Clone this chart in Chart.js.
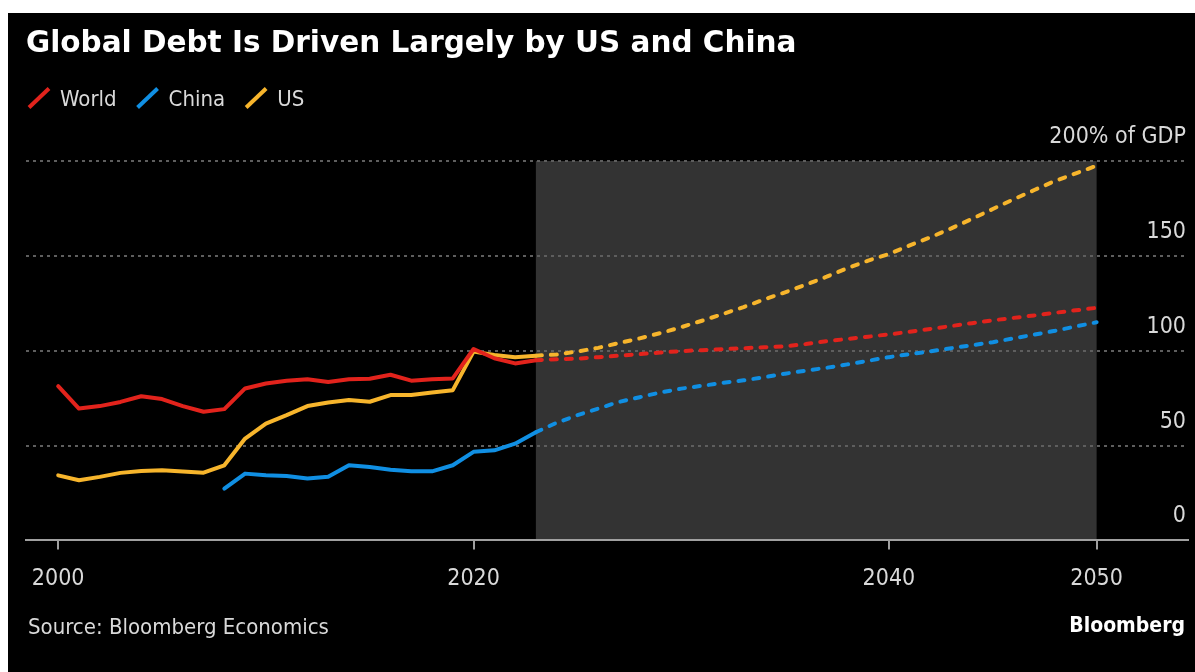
<!DOCTYPE html>
<html>
<head>
<meta charset="utf-8">
<script src="https://cdn.jsdelivr.net/npm/chart.js@4.4.1/dist/chart.umd.min.js"></script>
<style>
  html, body { margin: 0; padding: 0; background: #fff; }
  #wrap { position: absolute; left: 8px; top: 13px; width: 1187px; height: 659px; background: #000; }
  canvas { display: block; }
</style>
</head>
<body>
<div id="wrap"><canvas id="chart" width="1187" height="659"></canvas></div>
<script>
// history, % of GDP
const histYears = [2000, 2001, 2002, 2003, 2004, 2005, 2006, 2007, 2008, 2009, 2010, 2011,
                   2012, 2013, 2014, 2015, 2016, 2017, 2018, 2019, 2020, 2021, 2022, 2023];
const worldHist = [81.3, 69.5, 70.8, 73, 76, 74.5, 70.8, 67.8, 69.2, 80.1, 82.7, 84.2,
                   85, 83.5, 84.9, 85.2, 87.3, 84.2, 84.9, 85.4, 100.9, 96, 93.3, 95];
const chinaHist = [null, null, null, null, null, null, null, null, 27.3, 35.2, 34.3, 34,
                   32.6, 33.5, 39.6, 38.7, 37.3, 36.4, 36.4, 39.6, 46.7, 47.5, 51, 57];
const usHist    = [34.3, 31.7, 33.5, 35.6, 36.6, 37, 36.3, 35.7, 39.6, 53.7, 61.6, 66,
                   70.8, 72.7, 74, 73.1, 76.6, 76.6, 78, 79.2, 99.5, 97.7, 96.5, 97.4];

// projections (dashed)
const projYears = [2024, 2025, 2026, 2027, 2028, 2029, 2030, 2031, 2032, 2033, 2034, 2035, 2036,
                   2037, 2038, 2039, 2040, 2041, 2042, 2043, 2044, 2045, 2046, 2047, 2048, 2049, 2050];
const worldProj = [95.5, 95.8, 96.6, 97.4, 98.2, 99, 99.8, 100.3, 100.8, 101.3, 101.8, 102.3, 103.5,
                   105, 106.2, 107.4, 108.6, 110, 111.5, 113, 114.5, 116, 117.3, 118.6, 120, 121.3, 122.6];
const chinaProj = [62, 66, 69.5, 73, 75.5, 78, 80, 81.5, 83, 84.4, 86, 87.9, 89.5,
                   91, 92.8, 94.7, 96.6, 98.2, 99.7, 101.3, 102.9, 104.5, 106.5, 108.5, 110.5, 112.8, 115];
const usProj    = [98, 99.6, 101.5, 104, 106.5, 109.3, 112.4, 115.8, 119.3, 123, 127, 130.8, 134.8,
                   139, 143.5, 147.5, 151, 155.5, 159.8, 164.5, 169.5, 174.7, 179.8, 184.7, 189.5, 193.5, 197.5];

const forecastStart = 2023;
const forecastEnd = 2050;
const xTickYears = [2000, 2020, 2040, 2050];
const yTicks = [0, 50, 100, 150, 200];

const smallFont = "'DejaVu Sans Condensed', 'DejaVu Sans', sans-serif";

function series(hist, proj) {
  const pts = histYears.map((yr, i) => ({ x: yr, y: hist[i] }));
  return pts.concat(projYears.map((yr, i) => ({ x: yr, y: proj[i] })));
}

function makeSet(label, color, hist, proj) {
  return {
    label: label,
    data: series(hist, proj),
    borderColor: color,
    backgroundColor: color,
    borderWidth: 4,
    borderCapStyle: 'round',
    borderJoinStyle: 'round',
    pointRadius: 0,
    tension: 0,
    segment: {
      borderDash: c => c.p0.parsed.x >= forecastStart ? [6, 9] : undefined
    }
  };
}

// grey forecast band, legend and footer texts
const decor = {
  id: 'decor',
  beforeDraw(chart) {
    const { ctx, chartArea: a, scales: { x } } = chart;
    const x0 = x.getPixelForValue(forecastStart);
    const x1 = x.getPixelForValue(forecastEnd);
    ctx.save();
    ctx.fillStyle = '#333333';
    ctx.fillRect(x0, a.top, x1 - x0, a.bottom - a.top);
    ctx.restore();
  },
  afterDraw(chart) {
    const ctx = chart.ctx;
    ctx.save();
    // legend
    ctx.font = '22px ' + smallFont;
    ctx.textBaseline = 'alphabetic';
    let cx = 31;
    const ly = 85;
    chart.data.datasets.forEach(ds => {
      ctx.strokeStyle = ds.borderColor;
      ctx.lineWidth = 4;
      ctx.lineCap = 'butt';
      ctx.beginPath();
      ctx.moveTo(cx - 10, ly + 9.5);
      ctx.lineTo(cx + 10, ly - 9.5);
      ctx.stroke();
      ctx.fillStyle = '#d9d9d9';
      ctx.textAlign = 'left';
      ctx.fillText(ds.label, cx + 21, ly + 8);
      cx += 21 + ctx.measureText(ds.label).width + 31;
    });
    // footer
    ctx.fillStyle = '#d9d9d9';
    ctx.fillText('Source: Bloomberg Economics', 20, 621);
    ctx.font = 'bold 21px ' + smallFont;
    ctx.fillStyle = '#ffffff';
    ctx.textAlign = 'right';
    ctx.fillText('Bloomberg', 1177, 619);
    ctx.restore();
  }
};

new Chart(document.getElementById('chart'), {
  type: 'line',
  data: {
    datasets: [
      makeSet('World', '#e2231c', worldHist, worldProj),
      makeSet('China', '#108fe3', chinaHist, chinaProj),
      makeSet('US', '#f7b52c', usHist, usProj)
    ]
  },
  options: {
    responsive: false,
    animation: false,
    events: [],
    layout: { padding: { left: 18, right: 7, top: 0, bottom: 63 } },
    plugins: {
      legend: { display: false },
      tooltip: { enabled: false },
      title: {
        display: true,
        text: 'Global Debt Is Driven Largely by US and China',
        align: 'start',
        color: '#ffffff',
        font: { family: "'DejaVu Sans', sans-serif", size: 29.5, weight: 'bold' },
        padding: { top: 14, bottom: 98.6 }
      }
    },
    scales: {
      x: {
        type: 'linear',
        min: 1998.45,
        max: 2054.4,
        afterBuildTicks: s => { s.ticks = xTickYears.map(v => ({ value: v })); },
        grid: { drawOnChartArea: false, drawTicks: true, tickLength: 9, color: '#a0a0a0', lineWidth: 2 },
        border: { display: true, color: '#a0a0a0', width: 2 },
        ticks: {
          autoSkip: false,
          maxRotation: 0,
          padding: 16,
          color: '#d9d9d9',
          font: { family: smallFont, size: 23 },
          callback: v => String(v)
        }
      },
      y: {
        position: 'right',
        min: 0,
        max: 200,
        afterBuildTicks: s => { s.ticks = yTicks.map(v => ({ value: v })); },
        grid: {
          drawTicks: false,
          lineWidth: 2,
          color: c => c.tick && c.tick.value === 0 ? 'rgba(0,0,0,0)' : '#5e5e5e'
        },
        border: { display: false, dash: [3, 4] },
        ticks: {
          mirror: true,
          padding: -2,
          labelOffset: -24,
          color: '#d9d9d9',
          font: { family: smallFont, size: 23 },
          callback: v => v === 200 ? '200% of GDP' : String(v)
        }
      }
    }
  },
  plugins: [decor]
});
</script>
</body>
</html>
